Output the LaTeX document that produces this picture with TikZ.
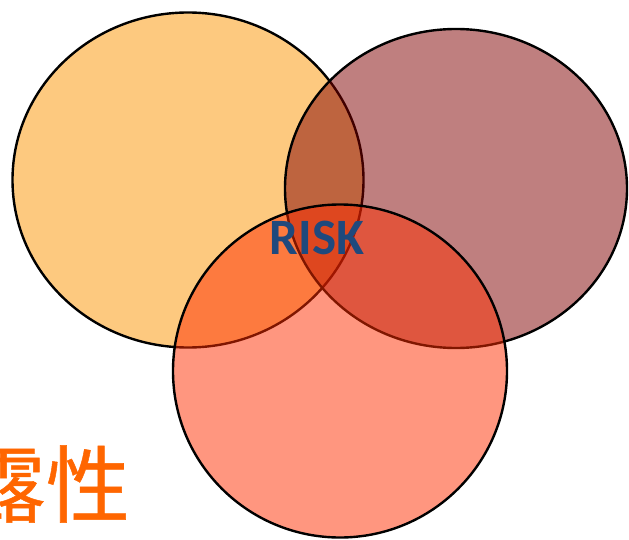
\documentclass[tikz,border=0pt]{standalone}
\usepackage{fontspec}
\setmainfont{Carlito}
\newfontfamily\cjk[FakeBold=0.6]{Noto Sans CJK SC}
\usetikzlibrary{shapes.geometric}

\definecolor{hazfill}{RGB}{251,147,0}
\definecolor{vulfill}{RGB}{128,0,0}
\definecolor{expfill}{RGB}{255,45,0}
\definecolor{riskblue}{RGB}{31,73,125}
\definecolor{labelorange}{RGB}{255,102,0}

\begin{document}
\begin{tikzpicture}[x=1pt, y=-1pt,
    venn/.style={ellipse, draw=black, line width=2.4pt, fill opacity=0.5, inner sep=0pt}]
  \useasboundingbox (0,0) rectangle (629,540);

  \node[venn, fill=hazfill, minimum width=351pt, minimum height=335pt] (nHaz) at (188,180) {};
  \node[venn, fill=vulfill, minimum width=342pt, minimum height=319pt] (nVul) at (456,188.5) {};
  \node[venn, fill=expfill, minimum width=334pt, minimum height=333pt] (nExp) at (340,371) {};

  \node[inner sep=0pt, text=riskblue, font=\bfseries\fontsize{51}{51}\selectfont] (nRisk) at (317,238) {RISK};
  \node[inner sep=0pt, anchor=base east, text=labelorange, font=\cjk\fontsize{84}{84}\selectfont] (nLabel) at (130,516) {露性};
\end{tikzpicture}
\end{document}
